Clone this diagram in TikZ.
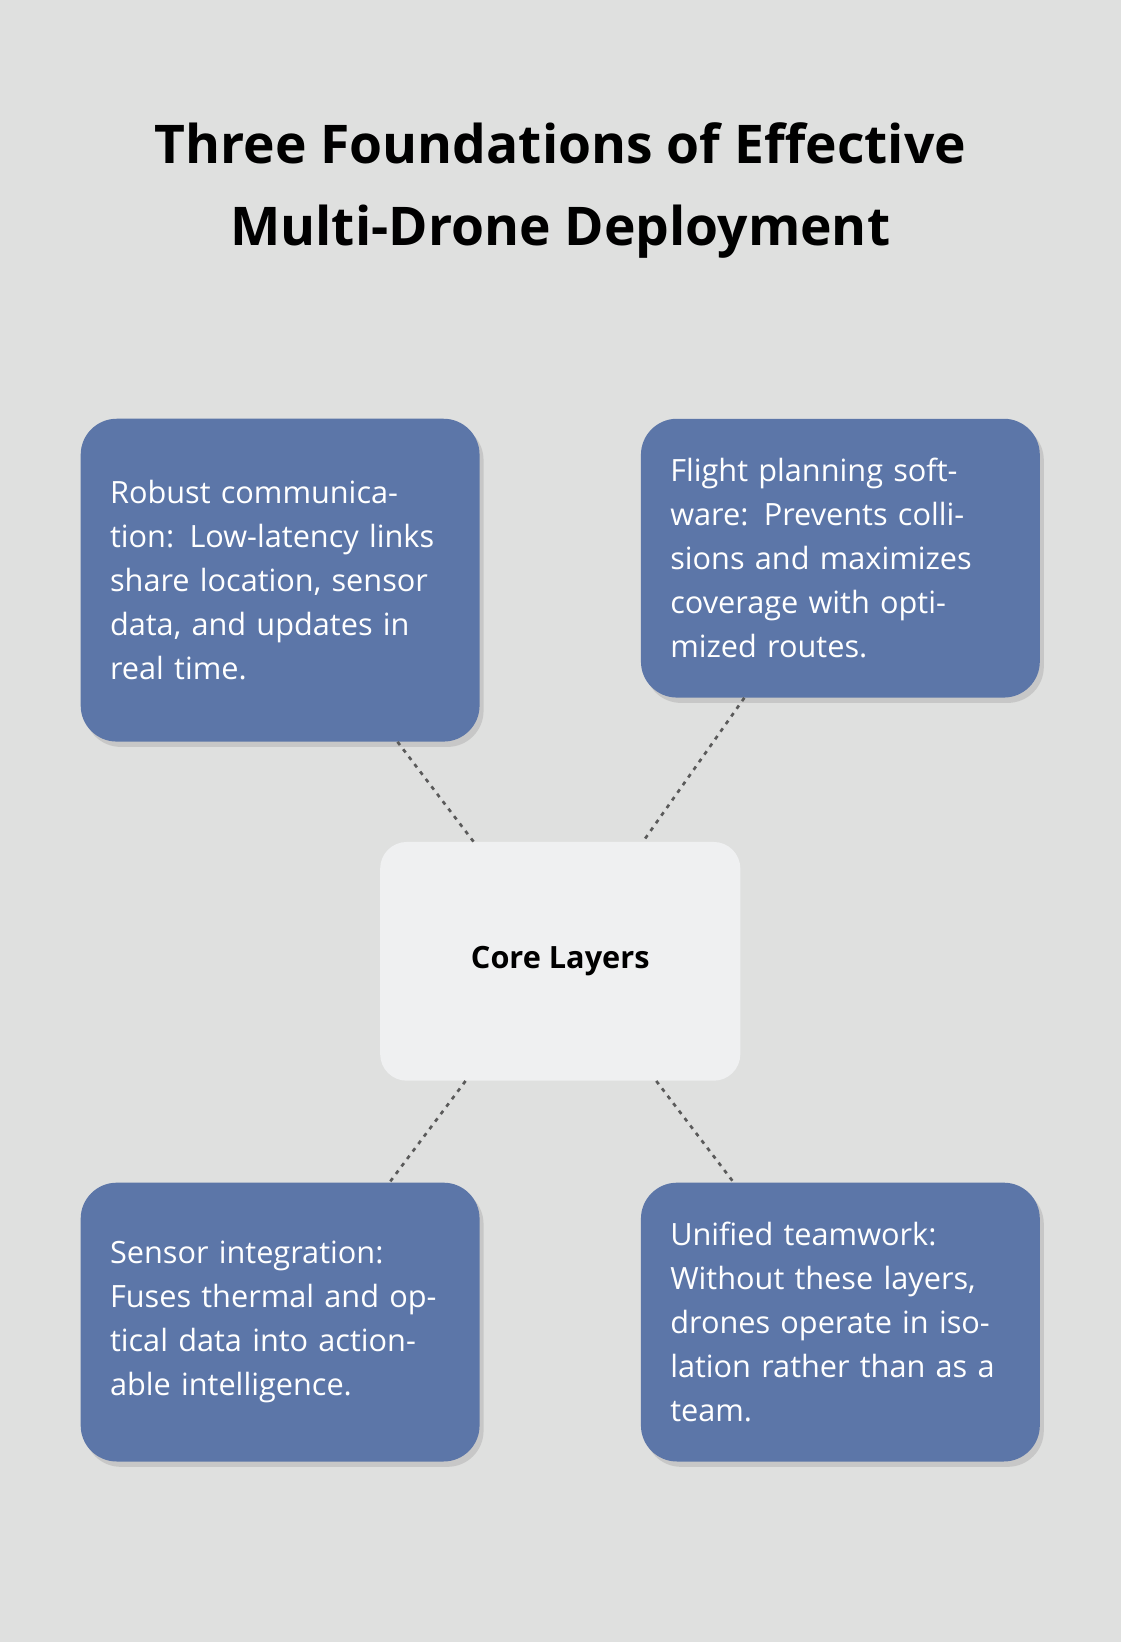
\documentclass[tikz,border=0pt]{standalone}
\usepackage{fontspec}
\setmainfont{Open Sans}
\usetikzlibrary{shadows}
\definecolor{bgcol}{HTML}{DFE0DF}
\definecolor{boxcol}{HTML}{5C76A8}
\definecolor{corecol}{HTML}{EFF0F1}
\definecolor{linkcol}{HTML}{5A5A5A}
\tikzset{
  layer/.style={rectangle, rounded corners=27pt, fill=boxcol, text=white,
    minimum width=299pt, text width=255pt, align=left,
    font=\fontsize{23}{33}\selectfont,
    drop shadow={opacity=0.25, shadow xshift=3pt, shadow yshift=-4pt}},
  core/.style={rectangle, rounded corners=20pt, fill=corecol,
    minimum width=270pt, minimum height=179pt,
    font=\fontsize{23}{28}\selectfont\bfseries},
  link/.style={linkcol, line width=2pt, dash pattern=on 3pt off 4pt}
}
\begin{document}
\begin{tikzpicture}[x=0.785pt, y=-0.785pt]
  \fill[bgcol] (0,0) rectangle (1070,1568);
  \useasboundingbox (0,0) rectangle (1070,1568);

  \node[align=center, font=\fontsize{40}{62}\selectfont\bfseries] (title) at (535,182)
    {Three Foundations of Effective\\Multi-Drone Deployment};

  \node[core] (core) at (535,918) {Core Layers};

  \node[layer, minimum height=242pt] (comm) at (267.5,554)
    {Robust communication: Low-latency links share location, sensor data, and updates in real time.};
  \node[layer, minimum height=209pt] (plan) at (802.5,533)
    {Flight planning software: Prevents collisions and maximizes coverage with optimized routes.};
  \node[layer, minimum height=209pt] (sens) at (267.5,1262.5)
    {Sensor integration: Fuses thermal and optical data into actionable intelligence.};
  \node[layer, minimum height=209pt] (team) at (802.5,1262.5)
    {Unified teamwork: Without these layers, drones operate in isolation rather than as a team.};

  % dotted links to the core
  \draw[link] ([xshift=88pt]comm.south) -- ([xshift=-65pt]core.north);
  \draw[link] ([xshift=-72pt]plan.south) -- ([xshift=62pt]core.north);
  \draw[link] ([xshift=-71pt]core.south) -- ([xshift=82pt]sens.north);
  \draw[link] ([xshift=72pt]core.south) -- ([xshift=-80pt]team.north);
\end{tikzpicture}
\end{document}
